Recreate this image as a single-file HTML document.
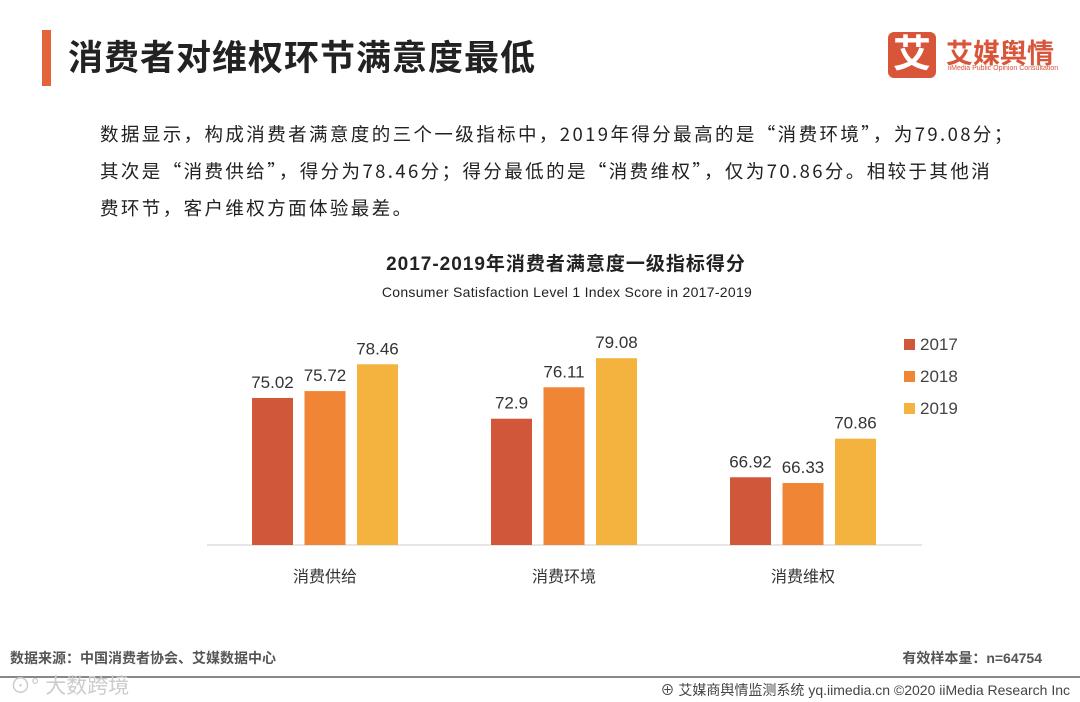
<!DOCTYPE html>
<html><head><meta charset="utf-8"><style>
body{margin:0;width:1080px;height:702px;background:#fff;font-family:"Liberation Sans","Noto Sans CJK SC",sans-serif;overflow:hidden;position:relative}
.a{position:absolute;white-space:nowrap}
</style></head><body>
<div class="a" style="left:42px;top:30px;width:9px;height:56px;background:#e4643a"></div>
<div class="a" style="left:68px;top:30px;font-size:35px;font-weight:bold;color:#222;letter-spacing:1px">消费者对维权环节满意度最低</div>
<div class="a" style="left:888px;top:32px;width:48px;height:46px;background:#d9553a;border-radius:6px;color:#fff;font-size:38px;font-weight:bold;text-align:center;line-height:46px">艾</div>
<div class="a" style="left:946px;top:32px;font-size:27px;font-weight:bold;color:#d9553a">艾媒舆情</div>
<div class="a" style="left:948px;top:65px;font-size:7px;color:#d9553a">iiMedia Public Opinion Consultation</div>
<div class="a" style="left:100px;top:116px;font-family:'Noto Sans CJK SC','Liberation Sans',sans-serif;font-size:18.5px;line-height:37px;color:#222;letter-spacing:2.4px">数据显示，构成消费者满意度的三个一级指标中，2019年得分最高的是“消费环境”，为79.08分；<br>其次是“消费供给”，得分为78.46分；得分最低的是“消费维权”，仅为70.86分。相较于其他消<br>费环节，客户维权方面体验最差。</div>
<div class="a" style="left:0;width:1132px;text-align:center;top:249px;font-size:19px;font-weight:bold;color:#222;letter-spacing:1px">2017-2019年消费者满意度一级指标得分</div>
<div class="a" style="left:0;width:1134px;text-align:center;top:284px;font-size:14px;color:#222;letter-spacing:0.3px">Consumer Satisfaction Level 1 Index Score in 2017-2019</div>
<svg class="a" style="left:0;top:0" width="1080" height="702" id="c"></svg>
<div class="a" style="left:10px;top:648px;font-size:14px;color:#555;font-weight:bold">数据来源：中国消费者协会、艾媒数据中心</div>
<div class="a" style="right:38px;top:648px;font-size:14px;color:#555;font-weight:bold">有效样本量：n=64754</div>
<div class="a" style="left:0;top:676px;width:1080px;height:2px;background:#888"></div>
<div class="a" style="left:10px;top:670px;font-size:21px;color:#ccc">⊙° 大数跨境</div>
<div class="a" style="right:10px;top:680px;font-size:14px;color:#444">⊕ 艾媒商舆情监测系统 yq.iimedia.cn ©2020 iiMedia Research Inc</div>
<script>
const categories=["消费供给","消费环境","消费维权"];
const years=["2017","2018","2019"];
const s2017=[75.02,72.9,66.92];
const s2018=[75.72,76.11,66.33];
const s2019=[78.46,79.08,70.86];
const series=[s2017,s2018,s2019];
const colors=["#d0573a","#ef8535","#f4b33f"];
const svg=document.getElementById('c');const NS="http://www.w3.org/2000/svg";
const base=545,scale=9.79,vmin=60;
const y=v=>base-(v-vmin)*scale;
const gx=i=>325+i*239;
function mk(t,a){const e=document.createElementNS(NS,t);for(const k in a)e.setAttribute(k,a[k]);svg.appendChild(e);return e;}
const ax=mk('line',{x1:207,x2:922,y1:base,y2:base,stroke:'#ccc','stroke-width':1});


categories.forEach((c,i)=>{
 series.forEach((s,j)=>{
  const x=gx(i)-73+j*52.5;
  const r=mk('rect',{x:x,y:y(s[i]),width:41,height:base-y(s[i]),fill:colors[j]});
  
  
  const t=mk('text',{x:x+20.5,y:y(s[i])-10,'text-anchor':'middle','font-size':17,fill:'#333'});
  t.textContent=s[i];
  
  
 });
 const l=mk('text',{x:gx(i),y:582,'text-anchor':'middle','font-size':16,fill:'#333'});
 l.textContent=c;
 
 
});
years.forEach((yr,j)=>{
 const r=mk('rect',{x:904,y:339+j*32,width:11,height:11,fill:colors[j]});
 
 
 const t=mk('text',{x:920,y:350+j*32,'font-size':17,fill:'#444'});
 t.textContent=yr;
 
 
});
</script>
</body></html>
